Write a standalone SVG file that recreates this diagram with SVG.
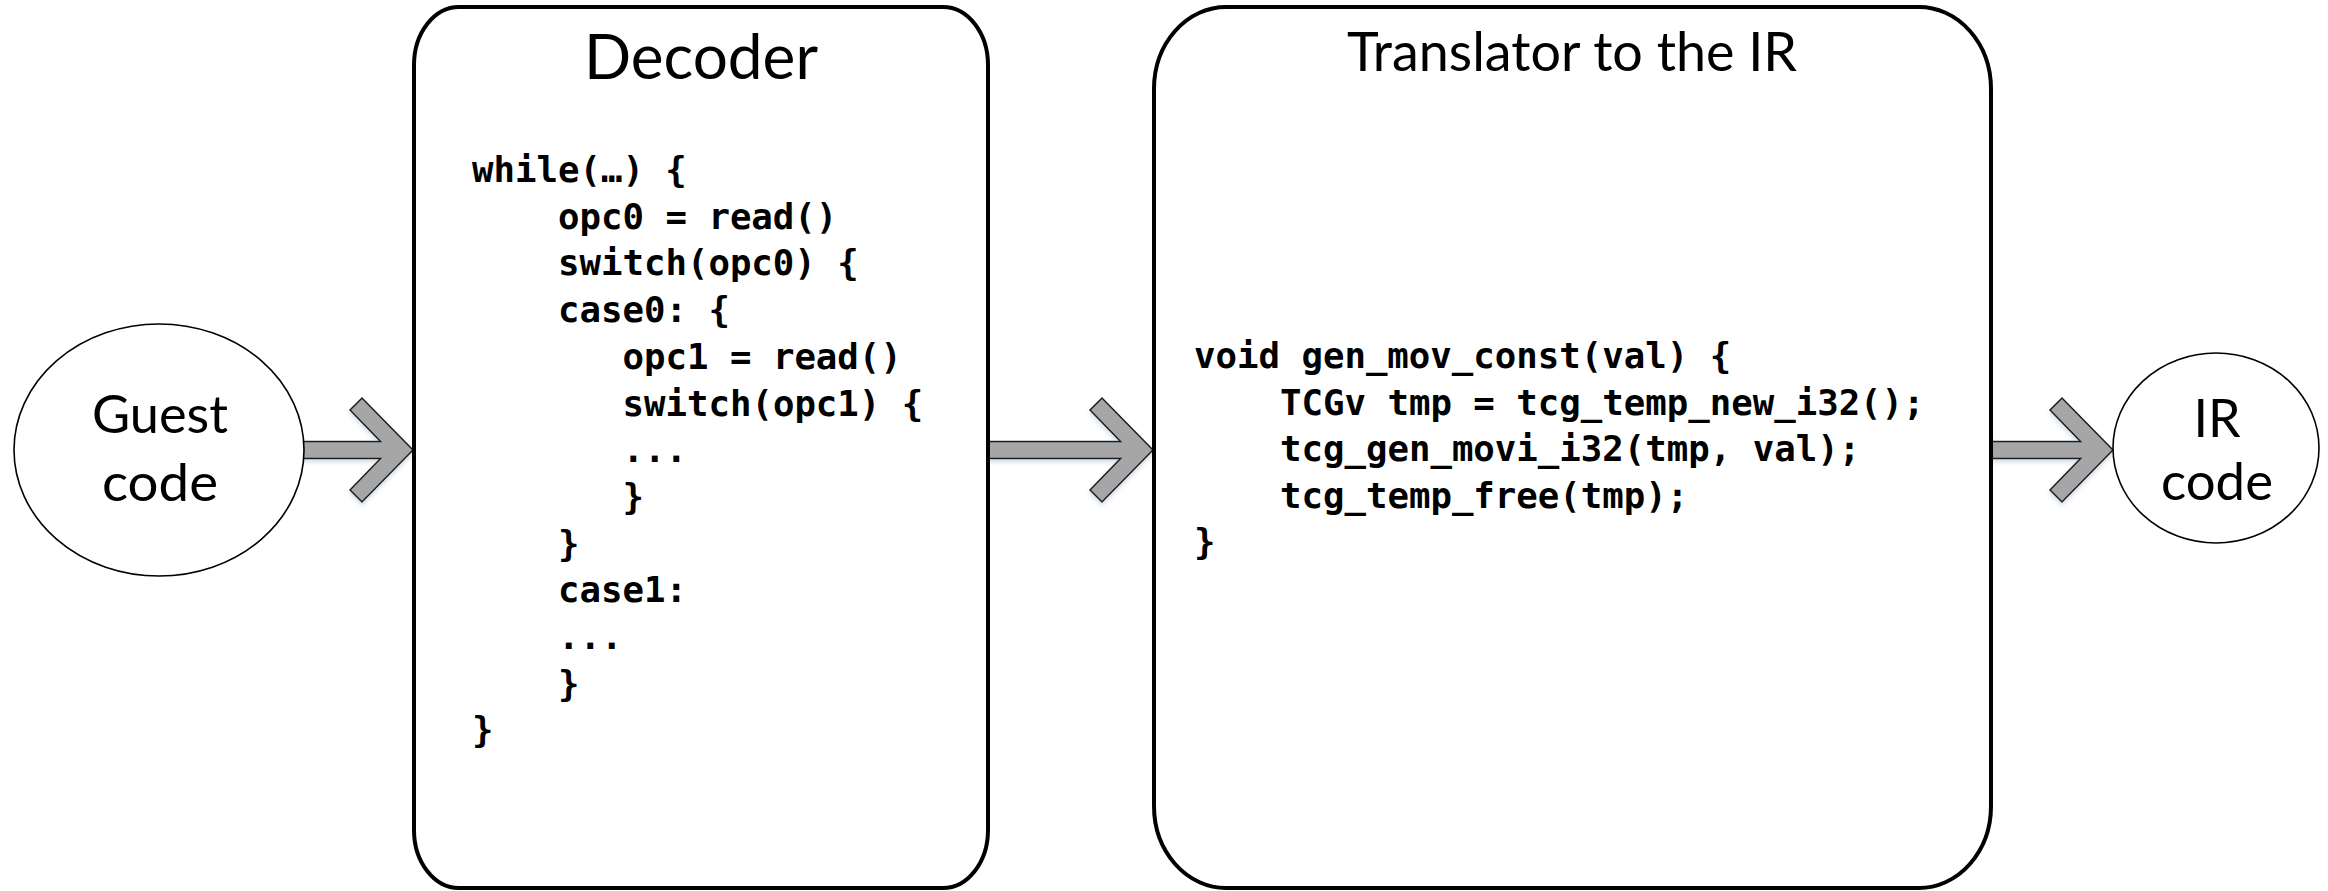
<svg xmlns="http://www.w3.org/2000/svg" width="2328" height="891" viewBox="0 0 2328 891">
  <style>
    .box { fill: #ffffff; stroke: #000000; stroke-width: 4; }
    .oval { fill: #ffffff; stroke: #000000; stroke-width: 1.6; }
    .label { font-family: Lato, "Open Sans", sans-serif; fill: #000000; text-anchor: middle; }
    .code { font-family: "DejaVu Sans Mono", "Liberation Mono", monospace; font-weight: bold; font-size: 35.7px; fill: #000000; }
    .arrow { fill: #a6a6a6; stroke: #1a1a1a; stroke-width: 1.5; stroke-linejoin: miter; filter: url(#soft); }
  </style>
  <defs>
    <filter id="soft" x="-10%" y="-20%" width="120%" height="150%">
      <feDropShadow dx="0" dy="3" stdDeviation="2" flood-color="#9db4cc" flood-opacity="0.45"/>
    </filter>
  </defs>
  <rect width="2328" height="891" fill="#ffffff"/>

  <!-- block arrows between the stages -->
  <g id="connectors">
    <polygon class="arrow" points="303,441.5 380.5,441.5 350,410 362,398 413,450 362,502 350,490 380.5,458.5 303,458.5"/>
    <polygon class="arrow" points="989,441.5 1120.5,441.5 1090,410 1102,398 1153,450 1102,502 1090,490 1120.5,458.5 989,458.5"/>
    <polygon class="arrow" points="1992,441.5 2080.5,441.5 2050,410 2062,398 2113,450 2062,502 2050,490 2080.5,458.5 1992,458.5"/>
  </g>

  <g id="guest-code">
    <ellipse class="oval" cx="159" cy="450" rx="145" ry="126"/>
    <text class="label" x="160" y="433" font-size="52" textLength="136" lengthAdjust="spacingAndGlyphs">Guest</text>
    <text class="label" x="160" y="501" font-size="52" textLength="116" lengthAdjust="spacingAndGlyphs">code</text>
  </g>

  <g id="decoder">
    <path class="box" d="M459,7 H943 A45,58 0 0 1 988,65 V830 A45,58 0 0 1 943,888 H459 A45,58 0 0 1 414,830 V65 A45,58 0 0 1 459,7 Z"/>
    <text class="label" x="701" y="79" font-size="61" textLength="234" lengthAdjust="spacingAndGlyphs">Decoder</text>
    <text class="code" x="472" y="182">while(…) {</text>
    <text class="code" x="558" y="228.7">opc0 = read()</text>
    <text class="code" x="558" y="275.4">switch(opc0) {</text>
    <text class="code" x="558" y="322.1">case0: {</text>
    <text class="code" x="622.5" y="368.8">opc1 = read()</text>
    <text class="code" x="622.5" y="415.5">switch(opc1) {</text>
    <text class="code" x="622.5" y="462.2">...</text>
    <text class="code" x="622.5" y="508.9">}</text>
    <text class="code" x="558" y="555.6">}</text>
    <text class="code" x="558" y="602.3">case1:</text>
    <text class="code" x="558" y="649">...</text>
    <text class="code" x="558" y="695.7">}</text>
    <text class="code" x="472" y="742.4">}</text>
  </g>

  <g id="translator">
    <path class="box" d="M1226,7 H1919 A72,82 0 0 1 1991,89 V806 A72,82 0 0 1 1919,888 H1226 A72,82 0 0 1 1154,806 V89 A72,82 0 0 1 1226,7 Z"/>
    <text class="label" x="1572" y="71" font-size="54" textLength="450" lengthAdjust="spacingAndGlyphs">Translator to the IR</text>
    <text class="code" x="1194" y="368">void gen_mov_const(val) {</text>
    <text class="code" x="1280" y="414.5">TCGv tmp = tcg_temp_new_i32();</text>
    <text class="code" x="1280" y="461">tcg_gen_movi_i32(tmp, val);</text>
    <text class="code" x="1280" y="507.5">tcg_temp_free(tmp);</text>
    <text class="code" x="1194" y="554">}</text>
  </g>

  <g id="ir-code">
    <ellipse class="oval" cx="2216" cy="448" rx="103" ry="95"/>
    <text class="label" x="2217" y="437" font-size="52">IR</text>
    <text class="label" x="2217" y="500" font-size="52" textLength="112" lengthAdjust="spacingAndGlyphs">code</text>
  </g>
</svg>
